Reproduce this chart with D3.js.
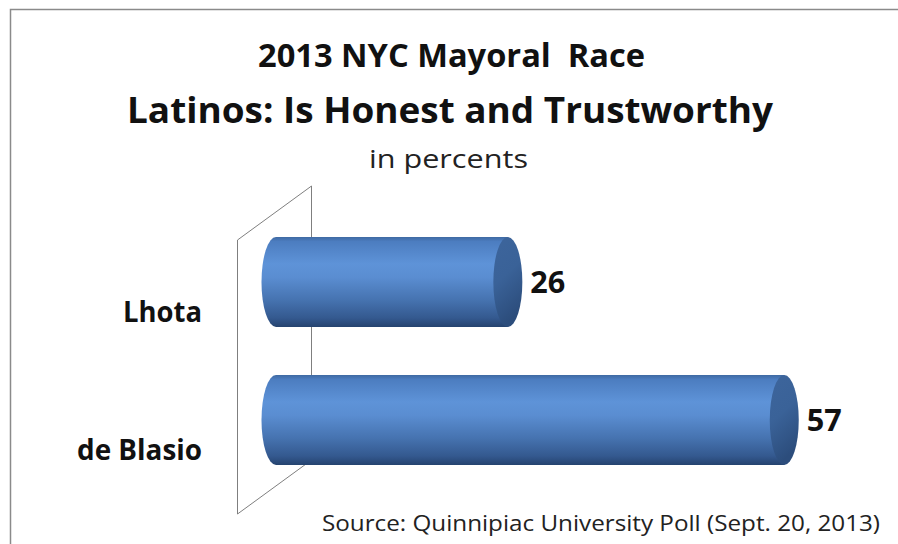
<!DOCTYPE html>
<html>
<head>
<meta charset="utf-8">
<script src="https://cdn.jsdelivr.net/npm/d3@7"></script>
<style>
  html, body { margin: 0; padding: 0; background: #ffffff; }
  svg { display: block; }
  svg text { white-space: pre; }
</style>
</head>
<body>
<svg id="chart" width="898" height="544"></svg>
<script>
// Chart data
const categories = ["Lhota", "de Blasio"];
const values = [26, 57];
const titleLines = ["2013 NYC Mayoral  Race", "Latinos: Is Honest and Trustworthy"];
const subtitle = "in percents";
const sourceNote = "Source: Quinnipiac University Poll (Sept. 20, 2013)";

const svg = d3.select("#chart");
const FONT = "'Open Sans', Lato, 'Liberation Sans', sans-serif";

// Outer frame
svg.append("rect")
  .attr("x", 10.5).attr("y", 9.5)
  .attr("width", 920).attr("height", 600)
  .attr("fill", "#ffffff")
  .attr("stroke", "#8a8a8a").attr("stroke-width", 1.5);

// Scales
const x = d3.scaleLinear().domain([0, 60]).range([276, 811]);
const y = d3.scaleBand().domain(categories)
  .range([213, 489]).paddingInner(0.348).paddingOuter(0.174);

// Perspective offset of the floor depth (back plane relative to front plane)
const depth = { dx: 74, dy: -54 };

// Gradients
const defs = svg.append("defs");
const body = defs.append("linearGradient").attr("id", "cylBody")
  .attr("x1", 0).attr("y1", 0).attr("x2", 0).attr("y2", 1);
[
  [0, "#3f6aa3"], [0.05, "#4c7dc0"], [0.3, "#5e93d8"], [0.45, "#5a8dd1"],
  [0.7, "#4673b0"], [0.9, "#34598f"], [1, "#25436f"]
].forEach(([o, c]) => body.append("stop").attr("offset", o).attr("stop-color", c));

const cap = defs.append("linearGradient").attr("id", "cylCap")
  .attr("x1", 0).attr("y1", 0).attr("x2", 0.3).attr("y2", 1);
[
  [0, "#3d659c"], [0.5, "#3a6298"], [1, "#2c4d7c"]
].forEach(([o, c]) => cap.append("stop").attr("offset", o).attr("stop-color", c));

// Side wall at the value-axis zero plane (drawn as a parallelogram outline)
const wallFrontX = 237.5, wallTop = 240, wallBottom = 514;
const wall = svg.append("g")
  .attr("fill", "none").attr("stroke", "#7f7f7f").attr("stroke-width", 1);
wall.append("path").attr("d", d3.line()([
  [wallFrontX, wallBottom],
  [wallFrontX, wallTop],
  [wallFrontX + depth.dx, wallTop + depth.dy],
  [wallFrontX + depth.dx, wallBottom + depth.dy]
]));
wall.append("line")
  .attr("x1", wallFrontX).attr("y1", wallBottom)
  .attr("x2", wallFrontX + depth.dx).attr("y2", wallBottom + depth.dy);

// Cylinders: body with a rounded back end, plus a darker elliptical front cap
const rx = 14.5;
const bars = svg.append("g");
categories.forEach((cat, i) => {
  const x0 = x(0), x1 = x(values[i]);
  const top = y(cat), h = y.bandwidth(), bot = top + h, ry = h / 2;
  bars.append("path")
    .attr("d", `M${x0},${top} L${x1},${top} L${x1},${bot} L${x0},${bot} A${rx},${ry} 0 0 1 ${x0},${top} Z`)
    .attr("fill", "url(#cylBody)");
  bars.append("ellipse")
    .attr("cx", x1).attr("cy", top + ry)
    .attr("rx", rx).attr("ry", ry)
    .attr("fill", "url(#cylCap)");
});

// Helper for text fitted to a given width
function label(sel, xPos, yPos, str, size, weight, width, fill) {
  return sel.append("text")
    .attr("x", xPos).attr("y", yPos)
    .attr("font-family", FONT).attr("font-weight", weight).attr("font-size", size)
    .attr("fill", fill)
    .attr("textLength", width).attr("lengthAdjust", "spacingAndGlyphs")
    .text(str);
}

// Value labels
categories.forEach((cat, i) => {
  label(svg, x(values[i]) + rx + 8, y(cat) + y.bandwidth() / 2 + 11,
        values[i], 30, 700, 35, "#111");
});

// Category labels (right-aligned to the axis area)
const catWidths = [79, 125];
categories.forEach((cat, i) => {
  label(svg, 202 - catWidths[i], y(cat) + y.bandwidth() / 2 + 40,
        cat, 28, 700, catWidths[i], "#111");
});

// Titles and notes
label(svg, 258, 67, titleLines[0], 32, 700, 387, "#111");
label(svg, 127, 123, titleLines[1], 35, 700, 646, "#111");
label(svg, 369, 168, subtitle, 26, 400, 159, "#222");
label(svg, 322, 531, sourceNote, 22, 400, 558, "#222");
</script>
</body>
</html>
